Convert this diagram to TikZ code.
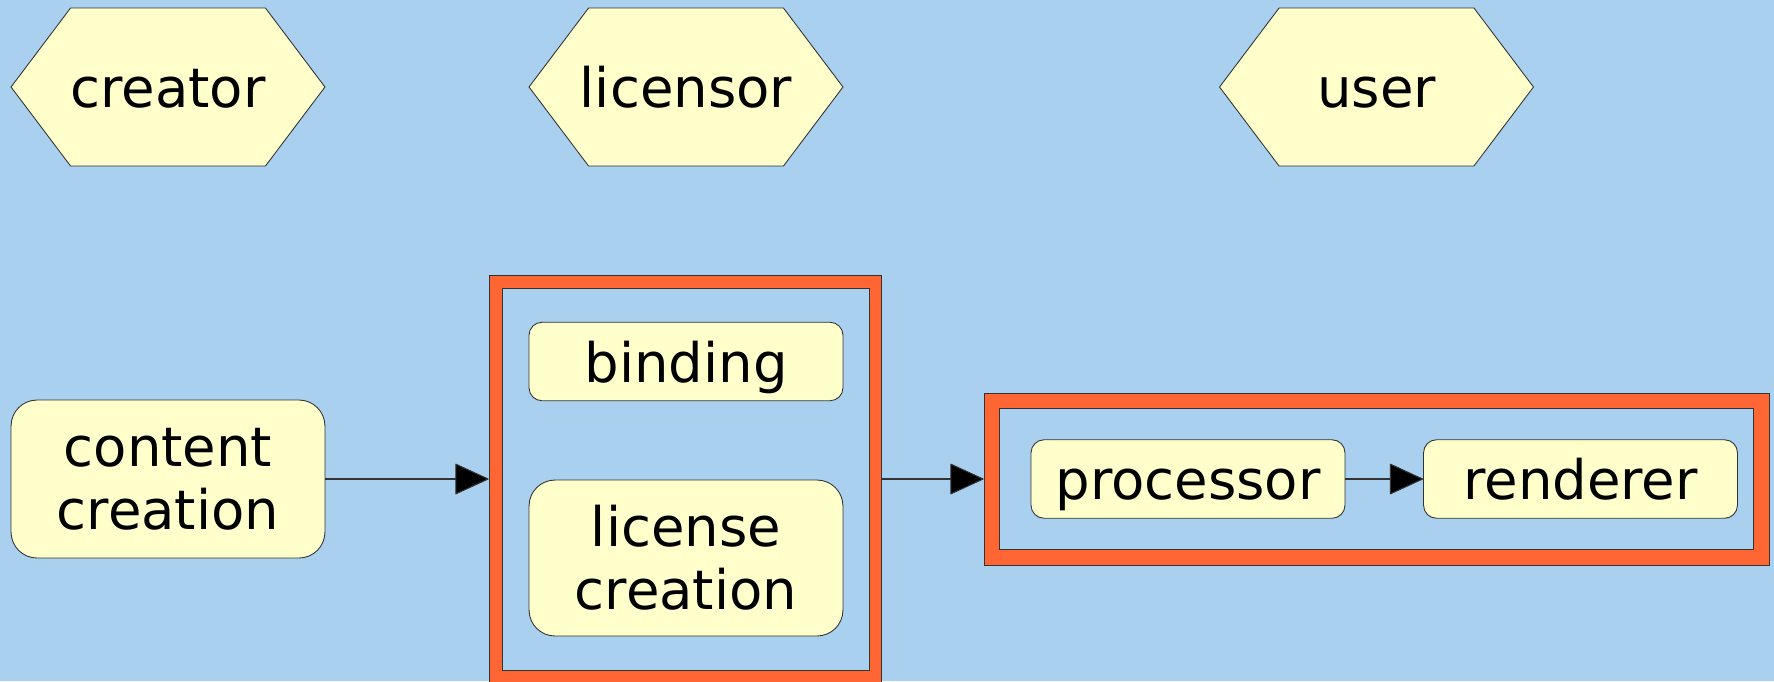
\documentclass[tikz,border=0pt]{standalone}
\usepackage{fontspec}
\setmainfont{DejaVu Sans}
\usetikzlibrary{shapes.symbols,arrows.meta}
\definecolor{bgblue}{RGB}{169,208,239}
\definecolor{boxyellow}{RGB}{255,255,204}
\definecolor{frameorange}{RGB}{255,102,51}
\definecolor{edgegray}{RGB}{51,51,51}
\begin{document}
\begin{tikzpicture}[x=0.02cm, y=-0.02cm,
    every node/.style={inner sep=0pt, align=center,
        font=\fontsize{31}{36}\selectfont},
    oneline/.style={text height=23.5pt, text depth=0pt},
    role/.style={shape=signal, signal to=west and east, signal pointer angle=106,
        draw=edgegray, line width=0.5pt, fill=boxyellow,
        minimum width=6.28cm, minimum height=3.16cm},
    task/.style={rectangle, rounded corners=0.52cm, draw=edgegray, line width=0.5pt,
        fill=boxyellow, minimum width=6.28cm},
    smalltask/.style={task, oneline, rounded corners=0.26cm, minimum height=1.57cm},
    outerframe/.style={rectangle, draw=edgegray, line width=0.5pt, fill=frameorange},
    innerframe/.style={rectangle, draw=edgegray, line width=0.5pt, fill=bgblue},
    flow/.style={draw=edgegray, line width=0.6pt,
        -{Triangle[length=0.68cm, width=0.62cm, round, fill=black]}}]

\fill[bgblue] (0,0) rectangle (1774,681);
\useasboundingbox (0,0) rectangle (1774,681);

% roles
\node[role, label={[oneline]center:creator}]  (creator)  at (168,87)    {};
\node[role, label={[oneline]center:licensor}] (licensor) at (686,87)    {};
\node[role, label={[oneline]center:user}]     (user)     at (1376.5,87) {};

% licensor frame
\node[outerframe, minimum width=7.84cm, minimum height=8.16cm] (licout) at (685,479) {};
\node[innerframe, minimum width=7.34cm, minimum height=7.64cm] (licin)  at (685.5,479) {};

% user frame
\node[outerframe, minimum width=15.7cm, minimum height=3.44cm] (useout) at (1376.5,479) {};
\node[innerframe, minimum width=15.08cm, minimum height=2.82cm] (usein) at (1376,478.5) {};

% tasks
\node[task, minimum height=3.16cm] (content) at (168,479) {content\\creation};
\node[smalltask] (binding)   at (686,361.5) {binding};
\node[task, minimum height=3.12cm] (license) at (686,558) {license\\creation};
\node[smalltask] (processor) at (1188,479)   {processor};
\node[smalltask] (renderer)  at (1580.5,479) {renderer};

\draw[flow] (content.east) -- (licout.west);
\draw[flow] (licout.east) -- (useout.west);
\draw[flow] (processor.east) -- (renderer.west);

\end{tikzpicture}
\end{document}
